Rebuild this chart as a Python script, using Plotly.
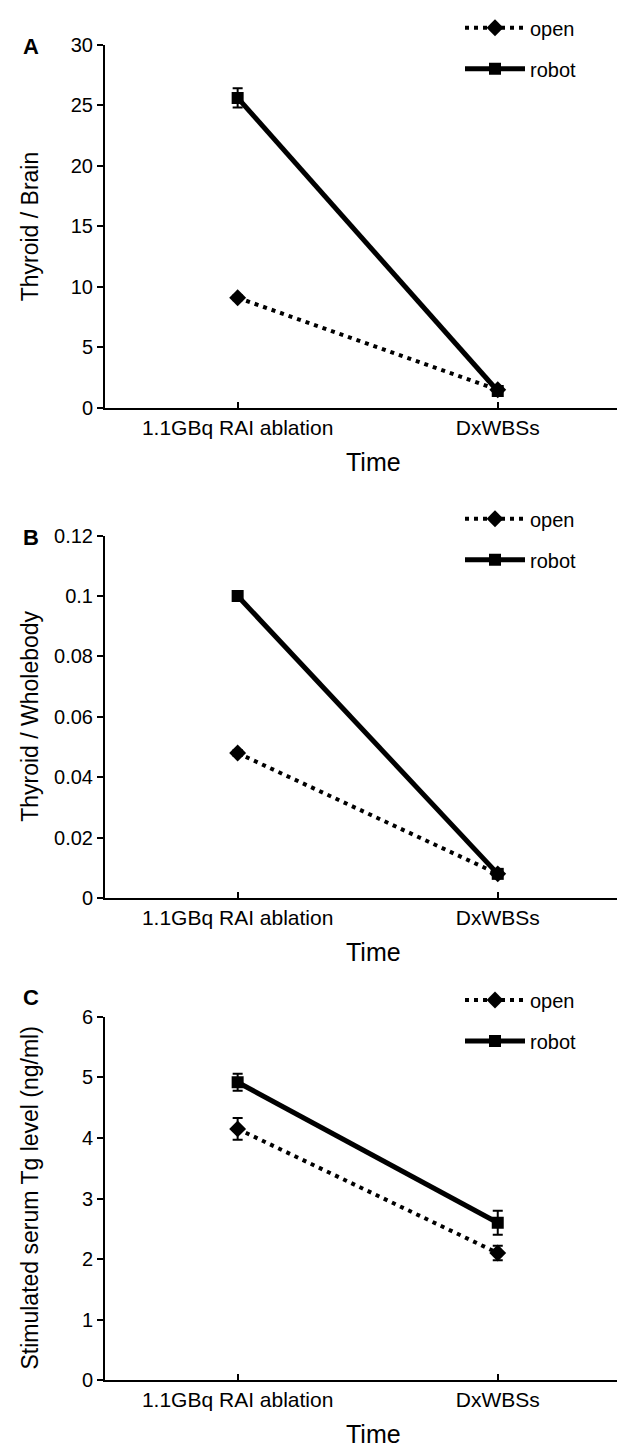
import plotly.graph_objects as go

categories = ["1.1GBq RAI ablation", "DxWBSs"]

a_open = [9.1, 1.5]
a_open_err = [0.2, 0.1]
a_robot = [25.6, 1.4]
a_robot_err = [0.8, 0.2]

b_open = [0.048, 0.008]
b_open_err = [0.001, 0.0006]
b_robot = [0.100, 0.008]
b_robot_err = [0.0015, 0.0006]

c_open = [4.15, 2.1]
c_open_err = [0.18, 0.12]
c_robot = [4.92, 2.6]
c_robot_err = [0.14, 0.2]

panel_letters = ["A", "B", "C"]
y_titles = ["Thyroid / Brain", "Thyroid / Wholebody", "Stimulated serum Tg level (ng/ml)"]
y_ranges = [[0, 30], [0, 0.12], [0, 6]]
y_dticks = [5, 0.02, 1]
x_title = "Time"

W, H = 625, 1450
FONT = "Liberation Sans, Arial, sans-serif"

# plot-area pixel positions (top, bottom) for each panel
panels_px = [(22, 392), (522, 891), (1012, 1382)]
legend_tops = [-15, 485, 975]
x_left_px = 97

def py(px):
    return 1 - px / H

fig = go.Figure()

data = [
    (a_open, a_open_err, a_robot, a_robot_err),
    (b_open, b_open_err, b_robot, b_robot_err),
    (c_open, c_open_err, c_robot, c_robot_err),
]

legend_names = ["legend", "legend2", "legend3"]

for i, (o, oe, r, re_) in enumerate(data):
    xa = "x" if i == 0 else f"x{i+1}"
    ya = "y" if i == 0 else f"y{i+1}"
    fig.add_trace(go.Scatter(
        x=categories, y=o, name="open", xaxis=xa, yaxis=ya,
        mode="lines+markers", legend=legend_names[i], legendgroup="open",
        line=dict(color="black", width=4, dash="4px,5px"),
        marker=dict(symbol="diamond", size=13, color="black"),
        error_y=dict(type="data", array=oe, color="black", thickness=2, width=5),
    ))
    fig.add_trace(go.Scatter(
        x=categories, y=r, name="robot", xaxis=xa, yaxis=ya,
        mode="lines+markers", legend=legend_names[i], legendgroup="robot",
        line=dict(color="black", width=5),
        marker=dict(symbol="square", size=12, color="black"),
        error_y=dict(type="data", array=re_, color="black", thickness=2, width=5),
    ))

layout = dict(
    width=W, height=H,
    margin=dict(l=0, r=0, t=0, b=0),
    paper_bgcolor="white", plot_bgcolor="white",
    font=dict(family=FONT, size=20, color="black"),
    showlegend=True,
)

annotations = []
for i, (top, bot) in enumerate(panels_px):
    sfx = "" if i == 0 else str(i + 1)
    layout["xaxis" + sfx] = dict(
        domain=[x_left_px / W, 1.0], anchor="y" + sfx,
        type="category", range=[-0.51, 1.52],
        showline=True, linecolor="black", linewidth=2,
        ticks="inside", ticklen=6, tickwidth=2, tickcolor="black",
        showgrid=False, zeroline=False,
        tickfont=dict(size=21),
    )
    layout["yaxis" + sfx] = dict(
        domain=[py(bot), py(top)], anchor="x" + sfx,
        range=y_ranges[i], dtick=y_dticks[i], tick0=0,
        showline=True, linecolor="black", linewidth=2,
        ticks="outside", ticklen=6, tickwidth=2, tickcolor="black",
        showgrid=False, zeroline=False,
        tickfont=dict(size=20),
    )
    # y-axis title
    annotations.append(dict(
        text=y_titles[i], textangle=-90, xref="paper", yref="paper",
        x=22 / W, y=py((top + bot) / 2), showarrow=False,
        font=dict(size=23), xanchor="center", yanchor="middle",
    ))
    # x-axis title
    annotations.append(dict(
        text=x_title, xref="paper", yref="paper",
        x=365 / W, y=py(bot + 55),
        showarrow=False, font=dict(size=25), xanchor="center", yanchor="middle",
    ))
    # panel letter
    letter_y = top + 2 if i < 2 else top - 20
    annotations.append(dict(
        text="<b>" + panel_letters[i] + "</b>", xref="paper", yref="paper",
        x=23 / W, y=py(letter_y), showarrow=False,
        font=dict(size=22), xanchor="center", yanchor="middle",
    ))
    layout[legend_names[i]] = dict(
        x=452 / W, y=py(legend_tops[i]), xanchor="left", yanchor="top",
        bgcolor="rgba(0,0,0,0)", font=dict(size=20),
        tracegroupgap=12, itemwidth=60,
    )

layout["annotations"] = annotations
fig.update_layout(**layout)

fig.write_html("out.html")
